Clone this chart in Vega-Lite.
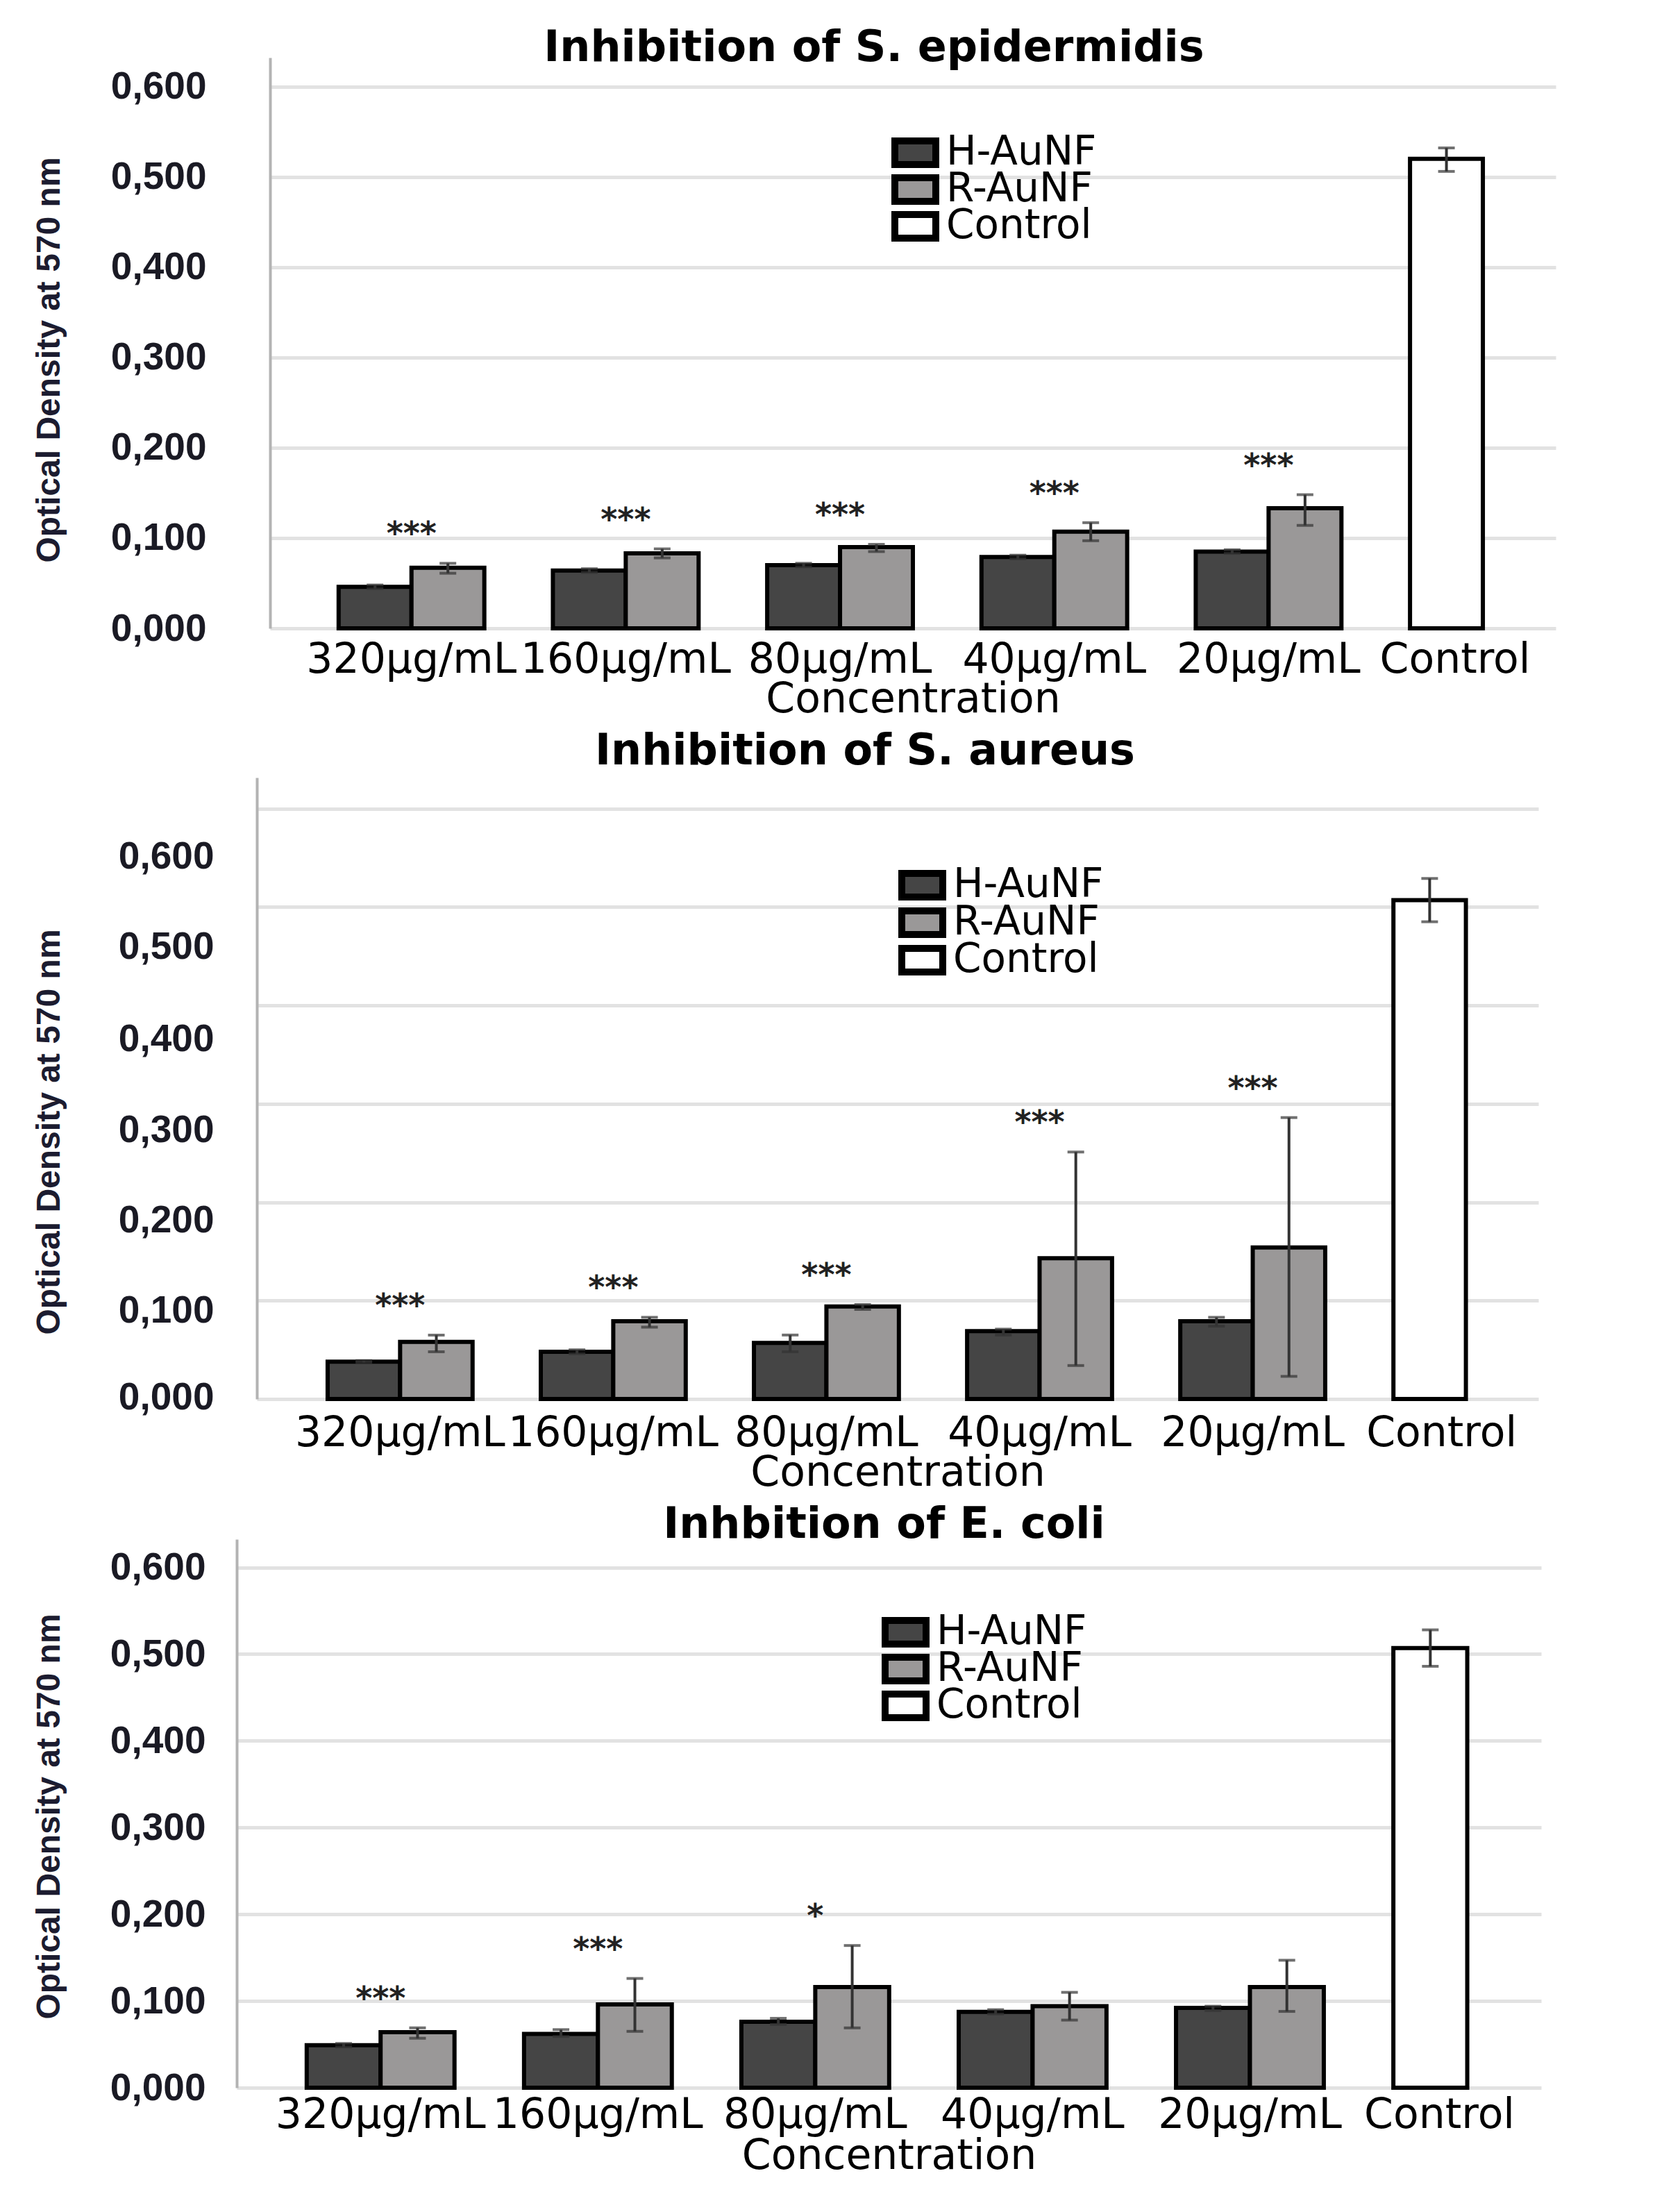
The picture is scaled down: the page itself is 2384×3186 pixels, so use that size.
{
  "$schema": "https://vega.github.io/schema/vega-lite/v6.json",
  "background": "white",
  "padding": {"left": 46, "top": 38, "right": 5, "bottom": 5},
  "config": {"view": {"stroke": null}, "font": "DejaVu Sans"},
  "datasets": {
    "epi": [
      {"conc": "320µg/mL", "series": "H-AuNF", "mean": 0.046, "lo": 0.044, "hi": 0.048},
      {"conc": "320µg/mL", "series": "R-AuNF", "mean": 0.067, "lo": 0.061, "hi": 0.072, "sig": "***"},
      {"conc": "160µg/mL", "series": "H-AuNF", "mean": 0.064, "lo": 0.062, "hi": 0.066},
      {"conc": "160µg/mL", "series": "R-AuNF", "mean": 0.083, "lo": 0.078, "hi": 0.088, "sig": "***"},
      {"conc": "80µg/mL", "series": "H-AuNF", "mean": 0.070, "lo": 0.068, "hi": 0.072},
      {"conc": "80µg/mL", "series": "R-AuNF", "mean": 0.090, "lo": 0.085, "hi": 0.093, "sig": "***"},
      {"conc": "40µg/mL", "series": "H-AuNF", "mean": 0.079, "lo": 0.077, "hi": 0.081},
      {"conc": "40µg/mL", "series": "R-AuNF", "mean": 0.107, "lo": 0.097, "hi": 0.117, "sig": "***"},
      {"conc": "20µg/mL", "series": "H-AuNF", "mean": 0.085, "lo": 0.083, "hi": 0.087},
      {"conc": "20µg/mL", "series": "R-AuNF", "mean": 0.133, "lo": 0.114, "hi": 0.148, "sig": "***"},
      {"conc": "Control", "series": "Control", "mean": 0.520, "lo": 0.506, "hi": 0.532}
    ],
    "aureus": [
      {"conc": "320µg/mL", "series": "H-AuNF", "mean": 0.038, "lo": 0.037, "hi": 0.039},
      {"conc": "320µg/mL", "series": "R-AuNF", "mean": 0.058, "lo": 0.048, "hi": 0.065, "sig": "***"},
      {"conc": "160µg/mL", "series": "H-AuNF", "mean": 0.048, "lo": 0.046, "hi": 0.050},
      {"conc": "160µg/mL", "series": "R-AuNF", "mean": 0.079, "lo": 0.073, "hi": 0.083, "sig": "***"},
      {"conc": "80µg/mL", "series": "H-AuNF", "mean": 0.057, "lo": 0.048, "hi": 0.065},
      {"conc": "80µg/mL", "series": "R-AuNF", "mean": 0.094, "lo": 0.091, "hi": 0.096, "sig": "***"},
      {"conc": "40µg/mL", "series": "H-AuNF", "mean": 0.069, "lo": 0.065, "hi": 0.071},
      {"conc": "40µg/mL", "series": "R-AuNF", "mean": 0.143, "lo": 0.034, "hi": 0.251, "sig": "***"},
      {"conc": "20µg/mL", "series": "H-AuNF", "mean": 0.079, "lo": 0.074, "hi": 0.083},
      {"conc": "20µg/mL", "series": "R-AuNF", "mean": 0.154, "lo": 0.023, "hi": 0.286, "sig": "***"},
      {"conc": "Control", "series": "Control", "mean": 0.507, "lo": 0.485, "hi": 0.529}
    ],
    "ecoli": [
      {"conc": "320µg/mL", "series": "H-AuNF", "mean": 0.049, "lo": 0.047, "hi": 0.051},
      {"conc": "320µg/mL", "series": "R-AuNF", "mean": 0.064, "lo": 0.057, "hi": 0.069, "sig": "***"},
      {"conc": "160µg/mL", "series": "H-AuNF", "mean": 0.062, "lo": 0.059, "hi": 0.067},
      {"conc": "160µg/mL", "series": "R-AuNF", "mean": 0.096, "lo": 0.065, "hi": 0.126, "sig": "***"},
      {"conc": "80µg/mL", "series": "H-AuNF", "mean": 0.076, "lo": 0.073, "hi": 0.080},
      {"conc": "80µg/mL", "series": "R-AuNF", "mean": 0.116, "lo": 0.069, "hi": 0.164, "sig": "*"},
      {"conc": "40µg/mL", "series": "H-AuNF", "mean": 0.0875, "lo": 0.085, "hi": 0.090},
      {"conc": "40µg/mL", "series": "R-AuNF", "mean": 0.094, "lo": 0.078, "hi": 0.110},
      {"conc": "20µg/mL", "series": "H-AuNF", "mean": 0.092, "lo": 0.089, "hi": 0.094},
      {"conc": "20µg/mL", "series": "R-AuNF", "mean": 0.116, "lo": 0.088, "hi": 0.147},
      {"conc": "Control", "series": "Control", "mean": 0.507, "lo": 0.486, "hi": 0.528}
    ],
    "none": []
  },
  "columns": 1,
  "align": "none",
  "spacing": 14,
  "resolve": {"scale": {"fill": "independent", "x": "independent", "y": "independent", "xOffset": "independent"}, "legend": {"fill": "independent"}},
  "concat": [
    {"spacing": 0, "hconcat": [
    {"width": 1, "height": 1, "data": {"name": "none"}, "mark": {"type": "point"}},
    {
      "width": 1852, "height": 822,
      "title": {"text": "Inhibition of S. epidermidis", "font": "DejaVu Sans", "fontSize": 62, "fontWeight": "bold", "color": "black", "baseline": "alphabetic", "frame": "group", "anchor": "middle", "offset": -67, "dx": -56},
      "data": {"name": "epi"},
      "encoding": {
        "x": {"field": "conc", "type": "nominal", "scale": {"domain": ["320µg/mL", "160µg/mL", "80µg/mL", "40µg/mL", "20µg/mL", "Control"], "paddingInner": 0.32, "paddingOuter": 0.16, "align": 1},
          "axis": {"domain": false, "ticks": false, "tickSize": 0, "labelFont": "DejaVu Sans", "labelFontSize": 60, "labelColor": "black", "labelPadding": 16, "labelAngle": 0, "labelOverlap": false, "labelLimit": 1000, "labelOffset": {"condition": {"test": "datum.value === 'Control'", "value": -40}, "value": 0}, "titleFont": "DejaVu Sans", "titleFontSize": 60, "titleFontWeight": "normal", "titleColor": "black", "titlePadding": -2},
          "title": "Concentration"}
      },
      "layer": [
        {"transform": [{"filter": "datum.series !== 'Control'"}],
         "mark": {"type": "bar", "stroke": "#000000", "strokeWidth": 6},
         "encoding": {
           "xOffset": {"field": "series", "type": "nominal", "scale": {"domain": ["H-AuNF", "R-AuNF"]}},
           "y": {"field": "mean", "type": "quantitative", "title": "Optical Density at 570 nm", "scale": {"domain": [0, 0.632], "nice": false, "zero": true},
             "axis": {"values": [0, 0.1, 0.2, 0.3, 0.4, 0.5, 0.6], "labelExpr": "replace(format(datum.value, '.3f'), '.', ',')", "labelFont": "Liberation Sans", "labelFontWeight": "bold", "labelFontSize": 55, "labelColor": "#1a1a24", "labelPadding": 92, "ticks": false, "tickSize": 0, "domain": true, "domainColor": "#b3b3b3", "domainWidth": 4, "grid": true, "gridColor": "#e2e2e2", "gridWidth": 5, "titleFont": "Liberation Sans", "titleFontWeight": "bold", "titleFontSize": 48, "titleColor": "#1c1c30", "titlePadding": 94, "titleY": 435}},
           "fill": {"field": "series", "type": "nominal", "scale": {"domain": ["H-AuNF", "R-AuNF", "Control"], "range": ["#454545", "#9a9898", "#ffffff"]},
             "legend": {"title": null, "orient": "none", "legendX": 1238, "legendY": 113, "padding": 0, "symbolType": "M-1,-0.58H1V0.58H-1Z", "symbolSize": 3481, "symbolStrokeColor": "#000000", "symbolStrokeWidth": 10, "symbolOpacity": 1, "labelFont": "DejaVu Sans", "labelFontSize": 58, "labelColor": "black", "labelOffset": 10, "labelLimit": 1000, "clipHeight": 48, "rowPadding": -11}}
         }},
        {"transform": [{"filter": "datum.series === 'Control'"}],
         "mark": {"type": "bar", "stroke": "#000000", "strokeWidth": 6},
         "encoding": {"xOffset": {"datum": "H-AuNF"}, "y": {"field": "mean", "type": "quantitative", "title": "Optical Density at 570 nm"}, "fill": {"field": "series", "type": "nominal"}}},
        {"transform": [{"filter": "datum.series !== 'Control'"}],
         "mark": {"type": "rule", "color": "#333333", "strokeWidth": 4},
         "encoding": {"xOffset": {"field": "series", "type": "nominal"}, "y": {"field": "lo", "type": "quantitative", "title": "Optical Density at 570 nm"}, "y2": {"field": "hi"}}},
        {"transform": [{"filter": "datum.series === 'Control'"}],
         "mark": {"type": "rule", "color": "#333333", "strokeWidth": 4},
         "encoding": {"xOffset": {"datum": "H-AuNF"}, "y": {"field": "lo", "type": "quantitative", "title": "Optical Density at 570 nm"}, "y2": {"field": "hi"}}},
        {"transform": [{"filter": "datum.series !== 'Control'"}, {"fold": ["lo", "hi"], "as": ["bound", "v"]}],
         "mark": {"type": "tick", "color": "#333333", "thickness": 4, "size": 24},
         "encoding": {"xOffset": {"field": "series", "type": "nominal"}, "y": {"field": "v", "type": "quantitative", "title": "Optical Density at 570 nm"}}},
        {"transform": [{"filter": "datum.series === 'Control'"}, {"fold": ["lo", "hi"], "as": ["bound", "v"]}],
         "mark": {"type": "tick", "color": "#333333", "thickness": 4, "size": 24},
         "encoding": {"xOffset": {"datum": "H-AuNF"}, "y": {"field": "v", "type": "quantitative", "title": "Optical Density at 570 nm"}}},
        {"transform": [{"filter": "datum.sig != null"}],
         "mark": {"type": "text", "font": "DejaVu Sans", "fontWeight": "bold", "fontSize": 46, "baseline": "alphabetic", "dy": -27, "color": "#222222"},
         "encoding": {"y": {"field": "hi", "type": "quantitative", "title": "Optical Density at 570 nm"}, "text": {"field": "sig"}}}
      ]
    }]},
    {"spacing": 0, "hconcat": [
    {"width": 1, "height": 1, "data": {"name": "none"}, "mark": {"type": "point"}},
    {
      "width": 1846, "height": 895,
      "title": {"text": "Inhibition of S. aureus", "font": "DejaVu Sans", "fontSize": 62, "fontWeight": "bold", "color": "black", "baseline": "alphabetic", "frame": "group", "anchor": "middle", "offset": -43, "dx": -47},
      "data": {"name": "aureus"},
      "encoding": {
        "x": {"field": "conc", "type": "nominal", "scale": {"domain": ["320µg/mL", "160µg/mL", "80µg/mL", "40µg/mL", "20µg/mL", "Control"], "paddingInner": 0.32, "paddingOuter": 0.166, "align": 1},
          "axis": {"domain": false, "ticks": false, "tickSize": 0, "labelFont": "DejaVu Sans", "labelFontSize": 60, "labelColor": "black", "labelPadding": 20, "labelAngle": 0, "labelOverlap": false, "labelLimit": 1000, "labelOffset": {"condition": {"test": "datum.value === 'Control'", "value": -35}, "value": 0}, "titleFont": "DejaVu Sans", "titleFontSize": 60, "titleFontWeight": "normal", "titleColor": "black", "titlePadding": -2},
          "title": "Concentration"}
      },
      "layer": [
        {"transform": [{"filter": "datum.series !== 'Control'"}],
         "mark": {"type": "bar", "stroke": "#000000", "strokeWidth": 6},
         "encoding": {
           "xOffset": {"field": "series", "type": "nominal", "scale": {"domain": ["H-AuNF", "R-AuNF"]}},
           "y": {"field": "mean", "type": "quantitative", "title": "Optical Density at 570 nm", "scale": {"domain": [0, 0.6315], "nice": false, "zero": true},
             "axis": {"values": [0, 0.1, 0.2, 0.3, 0.4, 0.5, 0.6], "labelExpr": "replace(format(datum.value, '.3f'), '.', ',')", "labelFont": "Liberation Sans", "labelFontWeight": "bold", "labelFontSize": 55, "labelColor": "#1a1a24", "labelPadding": 62, "ticks": false, "tickSize": 0, "domain": true, "domainColor": "#b3b3b3", "domainWidth": 4, "grid": true, "gridColor": "#e2e2e2", "gridWidth": 5, "titleFont": "Liberation Sans", "titleFontWeight": "bold", "titleFontSize": 48, "titleColor": "#1c1c30", "titlePadding": 75, "titleY": 510,
               "labelOffset": {"condition": [
                 {"test": "datum.value > 0.55", "value": 69},
                 {"test": "datum.value > 0.45", "value": 57},
                 {"test": "datum.value > 0.35", "value": 48},
                 {"test": "datum.value > 0.25", "value": 38},
                 {"test": "datum.value > 0.15", "value": 26},
                 {"test": "datum.value > 0.05", "value": 14}
               ], "value": -3}}},
           "fill": {"field": "series", "type": "nominal", "scale": {"domain": ["H-AuNF", "R-AuNF", "Control"], "range": ["#454545", "#9a9898", "#ffffff"]},
             "legend": {"title": null, "orient": "none", "legendX": 1248, "legendY": 130, "padding": 0, "symbolType": "M-1,-0.58H1V0.58H-1Z", "symbolSize": 3481, "symbolStrokeColor": "#000000", "symbolStrokeWidth": 10, "symbolOpacity": 1, "labelFont": "DejaVu Sans", "labelFontSize": 58, "labelColor": "black", "labelOffset": 10, "labelLimit": 1000, "clipHeight": 50, "rowPadding": -10}}
         }},
        {"transform": [{"filter": "datum.series === 'Control'"}],
         "mark": {"type": "bar", "stroke": "#000000", "strokeWidth": 6},
         "encoding": {"xOffset": {"datum": "H-AuNF"}, "y": {"field": "mean", "type": "quantitative", "title": "Optical Density at 570 nm"}, "fill": {"field": "series", "type": "nominal"}}},
        {"transform": [{"filter": "datum.series !== 'Control'"}],
         "mark": {"type": "rule", "color": "#333333", "strokeWidth": 4},
         "encoding": {"xOffset": {"field": "series", "type": "nominal"}, "y": {"field": "lo", "type": "quantitative", "title": "Optical Density at 570 nm"}, "y2": {"field": "hi"}}},
        {"transform": [{"filter": "datum.series === 'Control'"}],
         "mark": {"type": "rule", "color": "#333333", "strokeWidth": 4},
         "encoding": {"xOffset": {"datum": "H-AuNF"}, "y": {"field": "lo", "type": "quantitative", "title": "Optical Density at 570 nm"}, "y2": {"field": "hi"}}},
        {"transform": [{"filter": "datum.series !== 'Control'"}, {"fold": ["lo", "hi"], "as": ["bound", "v"]}],
         "mark": {"type": "tick", "color": "#333333", "thickness": 4, "size": 24},
         "encoding": {"xOffset": {"field": "series", "type": "nominal"}, "y": {"field": "v", "type": "quantitative", "title": "Optical Density at 570 nm"}}},
        {"transform": [{"filter": "datum.series === 'Control'"}, {"fold": ["lo", "hi"], "as": ["bound", "v"]}],
         "mark": {"type": "tick", "color": "#333333", "thickness": 4, "size": 24},
         "encoding": {"xOffset": {"datum": "H-AuNF"}, "y": {"field": "v", "type": "quantitative", "title": "Optical Density at 570 nm"}}},
        {"transform": [{"filter": "datum.sig != null"}],
         "mark": {"type": "text", "font": "DejaVu Sans", "fontWeight": "bold", "fontSize": 46, "baseline": "alphabetic", "dy": -27, "color": "#222222"},
         "encoding": {"y": {"field": "hi", "type": "quantitative", "title": "Optical Density at 570 nm"}, "text": {"field": "sig"}}}
      ]
    }]},
    {"spacing": 0, "hconcat": [
    {"width": 1, "height": 1, "data": {"name": "none"}, "mark": {"type": "point"}},
    {
      "width": 1879, "height": 790,
      "title": {"text": "Inhbition of E. coli", "font": "DejaVu Sans", "fontSize": 62, "fontWeight": "bold", "color": "black", "baseline": "alphabetic", "frame": "group", "anchor": "middle", "offset": -60, "dx": -7},
      "data": {"name": "ecoli"},
      "encoding": {
        "x": {"field": "conc", "type": "nominal", "scale": {"domain": ["320µg/mL", "160µg/mL", "80µg/mL", "40µg/mL", "20µg/mL", "Control"], "paddingInner": 0.32, "paddingOuter": 0.161, "align": 1},
          "axis": {"domain": false, "ticks": false, "tickSize": 0, "labelFont": "DejaVu Sans", "labelFontSize": 60, "labelColor": "black", "labelPadding": 10, "labelAngle": 0, "labelOverlap": false, "labelLimit": 1000, "labelOffset": {"condition": {"test": "datum.value === 'Control'", "value": -40}, "value": 0}, "titleFont": "DejaVu Sans", "titleFontSize": 60, "titleFontWeight": "normal", "titleColor": "black", "titlePadding": 0},
          "title": "Concentration"}
      },
      "layer": [
        {"transform": [{"filter": "datum.series !== 'Control'"}],
         "mark": {"type": "bar", "stroke": "#000000", "strokeWidth": 6},
         "encoding": {
           "xOffset": {"field": "series", "type": "nominal", "scale": {"domain": ["H-AuNF", "R-AuNF"]}},
           "y": {"field": "mean", "type": "quantitative", "title": "Optical Density at 570 nm", "scale": {"domain": [0, 0.6325], "nice": false, "zero": true},
             "axis": {"values": [0, 0.1, 0.2, 0.3, 0.4, 0.5, 0.6], "labelExpr": "replace(format(datum.value, '.3f'), '.', ',')", "labelFont": "Liberation Sans", "labelFontWeight": "bold", "labelFontSize": 55, "labelColor": "#1a1a24", "labelPadding": 45, "ticks": false, "tickSize": 0, "domain": true, "domainColor": "#b3b3b3", "domainWidth": 4, "grid": true, "gridColor": "#e2e2e2", "gridWidth": 5, "titleFont": "Liberation Sans", "titleFontWeight": "bold", "titleFontSize": 48, "titleColor": "#1c1c30", "titlePadding": 63, "titleY": 399}},
           "fill": {"field": "series", "type": "nominal", "scale": {"domain": ["H-AuNF", "R-AuNF", "Control"], "range": ["#454545", "#9a9898", "#ffffff"]},
             "legend": {"title": null, "orient": "none", "legendX": 1224, "legendY": 110, "padding": 0, "symbolType": "M-1,-0.58H1V0.58H-1Z", "symbolSize": 3481, "symbolStrokeColor": "#000000", "symbolStrokeWidth": 10, "symbolOpacity": 1, "labelFont": "DejaVu Sans", "labelFontSize": 58, "labelColor": "black", "labelOffset": 10, "labelLimit": 1000, "clipHeight": 48, "rowPadding": -11}}
         }},
        {"transform": [{"filter": "datum.series === 'Control'"}],
         "mark": {"type": "bar", "stroke": "#000000", "strokeWidth": 6},
         "encoding": {"xOffset": {"datum": "H-AuNF"}, "y": {"field": "mean", "type": "quantitative", "title": "Optical Density at 570 nm"}, "fill": {"field": "series", "type": "nominal"}}},
        {"transform": [{"filter": "datum.series !== 'Control'"}],
         "mark": {"type": "rule", "color": "#333333", "strokeWidth": 4},
         "encoding": {"xOffset": {"field": "series", "type": "nominal"}, "y": {"field": "lo", "type": "quantitative", "title": "Optical Density at 570 nm"}, "y2": {"field": "hi"}}},
        {"transform": [{"filter": "datum.series === 'Control'"}],
         "mark": {"type": "rule", "color": "#333333", "strokeWidth": 4},
         "encoding": {"xOffset": {"datum": "H-AuNF"}, "y": {"field": "lo", "type": "quantitative", "title": "Optical Density at 570 nm"}, "y2": {"field": "hi"}}},
        {"transform": [{"filter": "datum.series !== 'Control'"}, {"fold": ["lo", "hi"], "as": ["bound", "v"]}],
         "mark": {"type": "tick", "color": "#333333", "thickness": 4, "size": 24},
         "encoding": {"xOffset": {"field": "series", "type": "nominal"}, "y": {"field": "v", "type": "quantitative", "title": "Optical Density at 570 nm"}}},
        {"transform": [{"filter": "datum.series === 'Control'"}, {"fold": ["lo", "hi"], "as": ["bound", "v"]}],
         "mark": {"type": "tick", "color": "#333333", "thickness": 4, "size": 24},
         "encoding": {"xOffset": {"datum": "H-AuNF"}, "y": {"field": "v", "type": "quantitative", "title": "Optical Density at 570 nm"}}},
        {"transform": [{"filter": "datum.sig != null"}],
         "mark": {"type": "text", "font": "DejaVu Sans", "fontWeight": "bold", "fontSize": 46, "baseline": "alphabetic", "dy": -27, "color": "#222222"},
         "encoding": {"y": {"field": "hi", "type": "quantitative", "title": "Optical Density at 570 nm"}, "text": {"field": "sig"}}}
      ]
    }]}
  ]
}
